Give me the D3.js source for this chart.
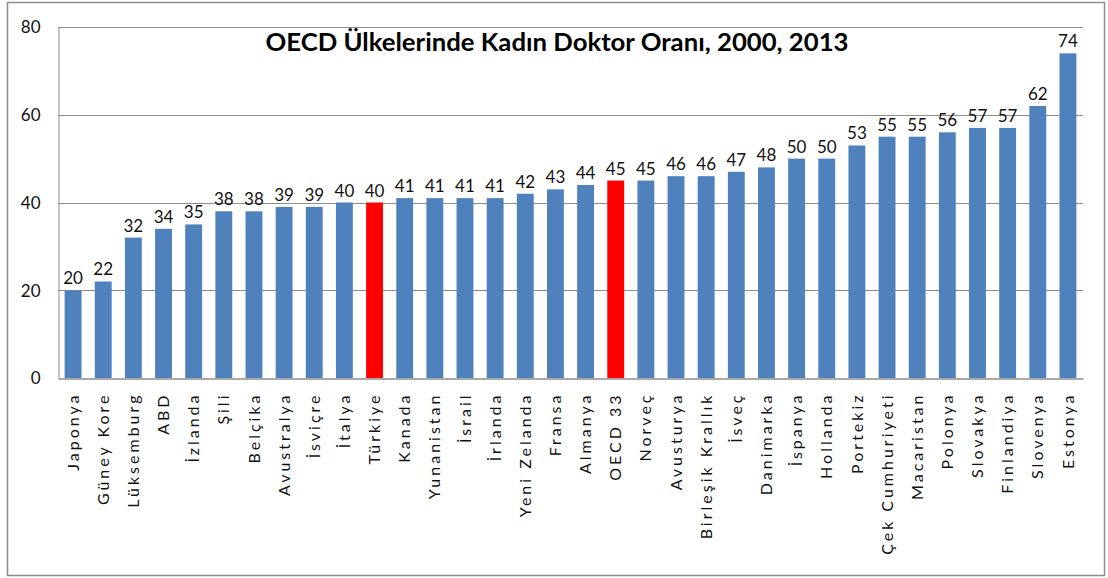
<!DOCTYPE html>
<html>
<head>
<meta charset="utf-8">
<script src="https://cdn.jsdelivr.net/npm/d3@7"></script>
<style>
  html, body { margin: 0; padding: 0; background: #fff; }
  svg { display: block; }
  text { font-family: Lato, "Open Sans", sans-serif; }
</style>
</head>
<body>
<svg id="chart" width="1108" height="578"></svg>
<script>
const categories = ["Japonya","Güney Kore","Lüksemburg","ABD","İzlanda","Şili","Belçika","Avustralya","İsviçre","İtalya","Türkiye","Kanada","Yunanistan","İsrail","İrlanda","Yeni Zelanda","Fransa","Almanya","OECD 33","Norveç","Avusturya","Birleşik Krallık","İsveç","Danimarka","İspanya","Hollanda","Portekiz","Çek Cumhuriyeti","Macaristan","Polonya","Slovakya","Finlandiya","Slovenya","Estonya"];
const values = [20,22,32,34,35,38,38,39,39,40,40,41,41,41,41,42,43,44,45,45,46,46,47,48,50,50,53,55,55,56,57,57,62,74];
const highlighted = ["Türkiye","OECD 33"];
const yTicks = [0,20,40,60,80];
const title = "OECD Ülkelerinde Kadın Doktor Oranı, 2000, 2013";

const svg = d3.select("#chart");
const plot = {left: 58, right: 1083, top: 27, bottom: 378};

// outer frame
svg.append("rect").attr("x", 7.5).attr("y", 2.5).attr("width", 1097).attr("height", 573)
  .attr("fill", "#fff").attr("stroke", "#8c8c8c").attr("stroke-width", 1.5);

const x = d3.scaleBand().domain(categories).range([plot.left, plot.right]).paddingInner(0.44).paddingOuter(0.22);
const y = d3.scaleLinear().domain([0, 80]).range([plot.bottom, plot.top]);

// gridlines
svg.append("g").selectAll("line").data(yTicks.filter(d => d > 0)).join("line")
  .attr("x1", plot.left).attr("x2", plot.right)
  .attr("y1", d => Math.round(y(d)) + 0.5).attr("y2", d => Math.round(y(d)) + 0.5)
  .attr("stroke", "#8c8c8c").attr("stroke-width", 1);

// y axis
const yAxis = d3.axisLeft(y).tickValues(yTicks).tickSize(0).tickPadding(18);
const gy = svg.append("g").attr("transform", `translate(${plot.left + 0.5},0)`).call(yAxis);
gy.select(".domain").attr("stroke", "#8c8c8c");
gy.selectAll("text").attr("font-size", 17).attr("fill", "#111").attr("dy", "0.35em");

// bars
svg.append("g").selectAll("rect").data(categories).join("rect")
  .attr("x", d => x(d)).attr("width", x.bandwidth())
  .attr("y", (d, i) => y(values[i])).attr("height", (d, i) => plot.bottom - y(values[i]))
  .attr("fill", d => highlighted.includes(d) ? "#ff0000" : "#4f81bd");

// value labels
svg.append("g").selectAll("text").data(categories).join("text")
  .attr("x", d => x(d) + x.bandwidth() / 2)
  .attr("y", (d, i) => y(values[i]) - 6)
  .attr("text-anchor", "middle").attr("font-size", 17).attr("fill", "#111")
  .text((d, i) => values[i]);

// x axis
const xAxis = d3.axisBottom(x).tickSize(0).tickPadding(0);
const gx = svg.append("g").attr("transform", `translate(0,${plot.bottom + 0.5})`).call(xAxis);
gx.select(".domain").attr("stroke", "#8c8c8c").attr("stroke-width", 1.5);
gx.selectAll("text")
  .attr("font-size", 16).attr("fill", "#111")
  .attr("letter-spacing", "3px")
  .attr("text-anchor", "end")
  .attr("transform", "translate(0,14) rotate(-90)")
  .attr("x", 0).attr("y", 0).attr("dy", "0.35em");

// title
svg.append("text").attr("x", 557).attr("y", 51).attr("text-anchor", "middle")
  .attr("font-size", 24).attr("font-weight", "bold").attr("fill", "#000")
  .attr("textLength", 583).attr("lengthAdjust", "spacingAndGlyphs")
  .text(title);
</script>
</body>
</html>
